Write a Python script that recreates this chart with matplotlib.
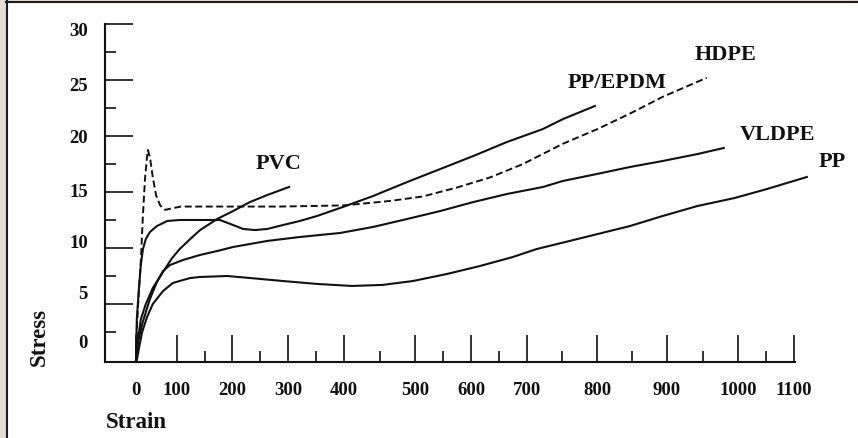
import numpy as np
import matplotlib
matplotlib.use("Agg")
import matplotlib.pyplot as plt
from matplotlib.lines import Line2D
from matplotlib.patches import Rectangle

# ---------------- data ----------------
hdpe_strain = [0, 2, 7, 12, 17, 22, 27, 29, 34, 41, 49, 59, 71, 83, 107, 178, 286, 398,
               416, 465, 514, 575, 634, 693, 751, 800, 847, 894, 956]
hdpe_stress = [0, 2.8, 6.1, 9.0, 13.0, 16.2, 18.2, 18.75, 18.1, 16.3, 14.7, 13.8, 13.4, 13.5,
               13.7, 13.7, 13.7, 13.8, 13.9, 14.2, 14.6, 15.4, 16.3, 17.5, 19.3, 20.6, 22.0,
               23.5, 25.2]

ppepdm_strain = [0, 2, 7, 12, 17, 24, 34, 51, 76, 105, 178, 202, 220, 241, 263, 291, 321,
                 352, 398, 441, 489, 545, 604, 664, 723, 751, 797]
ppepdm_stress = [0, 3.66, 6.34, 8.57, 9.91, 10.8, 11.43, 11.96, 12.41, 12.5, 12.5, 12.05,
                 11.7, 11.6, 11.7, 12.05, 12.41, 12.86, 13.66, 14.64, 15.89, 17.05, 18.21,
                 19.46, 20.63, 21.5, 22.68]

pvc_strain = [0, 5, 12, 24, 41, 66, 88, 105, 124, 142, 173, 202, 232, 263, 302]
pvc_stress = [0, 1.88, 3.66, 5.0, 6.43, 7.86, 9.1, 9.91, 10.8, 11.6, 12.59, 13.3, 14.1,
              14.73, 15.45]

vldpe_strain = [0, 5, 15, 34, 51, 66, 83, 111, 142, 173, 202, 263, 321, 393, 441, 489, 545,
                604, 664, 723, 751, 800, 847, 894, 943, 980]
vldpe_stress = [0, 1.6, 3.2, 5.45, 6.96, 7.95, 8.48, 8.93, 9.38, 9.73, 10.09, 10.63, 10.98,
                11.34, 11.88, 12.59, 13.3, 14.1, 14.82, 15.45, 15.98, 16.61, 17.23, 17.77,
                18.39, 18.93]

pp_strain = [2, 7, 15, 27, 41, 66, 90, 124, 142, 191, 232, 291, 352, 411, 454, 497, 557,
             616, 675, 714, 761, 847, 894, 943, 995, 1052, 1123]
pp_stress = [0, 1.0, 2.5, 3.84, 5.0, 6.16, 6.88, 7.32, 7.41, 7.5, 7.32, 7.05, 6.79, 6.61,
             6.7, 7.05, 7.68, 8.39, 9.2, 9.91, 10.63, 11.96, 12.86, 13.75, 14.46, 15.27,
             16.34]

curve_names = ["HDPE", "PP/EPDM", "PVC", "VLDPE", "PP"]

x_tick_values = [0, 100, 200, 300, 400, 500, 600, 700, 800, 900, 1000, 1100]
x_tick_labels = ["0", "100", "200", "300", "400", "500", "600", "700", "800", "900",
                 "1000", "1100"]
x_minor_values = [150, 250, 350, 450, 550, 650, 750, 850, 950, 1050]
y_tick_values = [5, 10, 15, 20, 25, 30]
y_minor_values = [2.5, 7.5, 12.5, 17.5, 22.5, 27.5]
y_tick_labels = ["0", "5", "10", "15", "20", "25", "30"]

# ---------------- layout / styling ----------------
W, H = 858, 439
plt.rcParams["font.family"] = ["Liberation Serif", "DejaVu Serif"]
plt.rcParams["font.weight"] = "bold"

fig = plt.figure(figsize=(W / 100, H / 100), dpi=100)
fig.patch.set_facecolor("white")

ax_left, ax_right, ax_top, ax_bottom = 105, 795, 25, 363
ax = fig.add_axes([ax_left / W, (H - ax_bottom) / H,
                   (ax_right - ax_left) / W, (ax_bottom - ax_top) / H])
ax.set_facecolor("white")

# the original strain axis is hand drawn with unevenly spaced ticks:
# calibrate a piecewise-linear scale to it
strain_knots = [-100, 0, 100, 200, 300, 400, 500, 600, 700, 800, 900, 1000, 1100, 1200]
axis_pos = [95, 136, 177, 232, 288, 344, 415, 471, 527, 597, 667, 738, 794, 850]


def fwd(x):
    return np.interp(x, strain_knots, axis_pos)


def inv(u):
    return np.interp(u, axis_pos, strain_knots)


ax.set_xscale("function", functions=(fwd, inv))
ax.set_xlim(inv(ax_left), inv(ax_right))
ax.set_ylim(-0.18, 30)

lc = "#111111"
lw = 1.5
ax.plot(hdpe_strain, hdpe_stress, color=lc, lw=1.4, dashes=(3.6, 1.8), clip_on=False)
ax.plot(ppepdm_strain, ppepdm_stress, color=lc, lw=lw, clip_on=False)
ax.plot(pvc_strain, pvc_stress, color=lc, lw=lw, clip_on=False)
ax.plot(vldpe_strain, vldpe_stress, color=lc, lw=lw, clip_on=False)
ax.plot(pp_strain, pp_stress, color=lc, lw=lw, clip_on=False)

# curve labels
label_pos = {"HDPE": (982, 27.3), "PP/EPDM": (829, 24.8), "PVC": (284, 17.6),
             "VLDPE": (1070, 20.2), "PP": (1168, 17.8)}
for name in curve_names:
    x, y = label_pos[name]
    ax.text(x, y, name, ha="center", va="center", fontsize=16, fontweight="bold",
            color=lc, clip_on=False)

# spines
for s in ["top", "right"]:
    ax.spines[s].set_visible(False)
for s in ["left", "bottom"]:
    ax.spines[s].set_linewidth(1.5)
    ax.spines[s].set_color(lc)

# ticks
ax.set_xticks(x_tick_values)
ax.set_xticklabels(x_tick_labels)
ax.set_xticks(x_minor_values, minor=True)
ax.set_yticks(y_tick_values)
ax.set_yticks(y_minor_values, minor=True)
ax.tick_params(axis="both", which="major", direction="in", length=19.8, width=1.2,
               color=lc)
ax.tick_params(axis="both", which="minor", direction="in", length=7.9, width=1.2,
               color=lc)
ax.tick_params(axis="x", which="major", labelsize=13.5, pad=13.5, labelcolor=lc)
ax.tick_params(axis="y", which="both", labelleft=False)
for t in ax.get_xticklabels():
    t.set_fontweight("bold")

# stress labels (placed as in the original drawing)
y_label_pos = [1.52, 5.98, 10.45, 15.0, 19.9, 24.55, 29.4]
ytr = ax.get_yaxis_transform()
for lab, yp in zip(y_tick_labels, y_label_pos):
    ax.text(-17 / (ax_right - ax_left), yp, lab, transform=ytr, ha="right", va="center",
            fontsize=13.5, fontweight="bold", color=lc, clip_on=False)

# axis titles
fig.text(39 / W, (H - 337) / H, "Stress", rotation=90, ha="center", va="center",
         fontsize=16.5, fontweight="bold", color=lc)
fig.text(106 / W, (H - 423) / H, "Strain", ha="left", va="center",
         fontsize=16.5, fontweight="bold", color=lc)

# window frame of the scanned figure
beige = "#e3ddd2"
fig.patches.append(Rectangle((0, 0), 6 / W, 1, transform=fig.transFigure,
                             color=beige, zorder=0))
fig.patches.append(Rectangle((0, 1 - 2 / H), 1, 2 / H, transform=fig.transFigure,
                             color=beige, zorder=0))
fig.add_artist(Line2D([7 / W, 7 / W], [0, 1 - 2 / H], transform=fig.transFigure,
                      color="#1c1c1c", lw=1.5))
fig.add_artist(Line2D([6 / W, 1], [1 - 3 / H, 1 - 3 / H], transform=fig.transFigure,
                      color="#1c1c1c", lw=1.5))

fig.savefig("out.png", dpi=100, facecolor=fig.get_facecolor())
